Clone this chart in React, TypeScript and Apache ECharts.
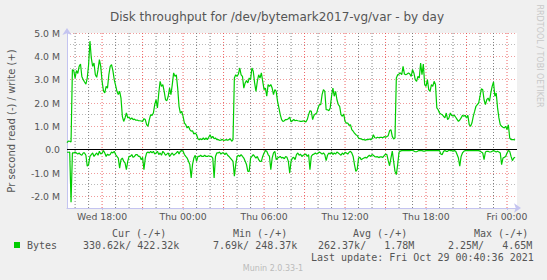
import React, { useEffect, useRef } from "react";
import * as echarts from "echarts";

// time in hours since Wed 00:00, fixed 6-minute sampling
const T0 = 15.4;
const STEP = 0.1;
const X_MIN = 15.4;
const X_MAX = 48.74;
const Y_MIN = -2.5;
const Y_MAX = 5;

// write (+) in MB/s
const writeMB = [
  0.30,0.37,0.36,0.33,3.43,3.39,3.07,3.39,3.27,3.57,3.67,3.14,3.00,2.90,2.81,3.07,3.64,4.65,3.93,3.57,
  3.71,3.21,3.10,3.43,3.86,3.57,2.93,2.53,2.43,2.71,2.64,3.21,3.57,3.64,3.39,3.00,2.76,2.50,2.36,2.50,
  2.21,1.43,1.21,1.36,1.57,1.36,1.40,1.30,1.36,1.29,1.31,1.26,1.27,1.24,
  1.24,1.23,1.21,1.33,1.29,1.07,1.00,1.29,1.50,1.47,1.57,1.93,2.14,1.79,2.43,2.93,2.71,2.79,2.50,2.14,
  2.10,2.29,2.64,2.36,2.79,3.29,3.14,3.21,2.64,1.86,1.57,1.64,1.43,1.14,1.07,0.93,1.00,0.86,0.79,0.81,
  0.67,0.71,0.64,0.47,0.43,0.47,0.43,0.50,0.43,0.50,0.43,0.53,0.64,0.50,0.57,0.47,0.50,0.43,
  0.43,0.40,0.41,0.44,0.40,0.41,0.43,0.40,0.43,0.47,0.36,0.43,3.07,3.21,3.14,3.24,3.50,3.21,3.14,2.64,
  2.86,2.96,2.86,3.07,3.00,3.50,3.36,2.86,2.50,2.93,3.21,3.07,3.29,2.93,2.57,2.64,2.29,2.79,2.71,2.79,
  2.64,2.36,2.57,2.50,2.07,1.79,1.50,1.29,1.21,1.24,1.29,1.29,1.33,1.39,1.19,1.24,1.29,1.24,
  1.26,1.24,1.23,1.21,1.21,1.24,1.21,1.19,1.29,1.50,1.67,1.64,1.29,1.47,1.53,1.57,1.79,1.93,1.93,2.36,
  2.57,2.50,1.71,1.71,1.67,1.79,2.29,2.64,2.29,2.50,2.14,1.93,1.86,1.50,1.43,1.53,1.21,1.14,1.14,1.04,
  1.07,0.86,0.79,0.71,0.64,0.61,0.50,0.47,0.46,0.43,0.43,0.41,0.43,0.43,0.46,0.43,0.47,0.64,
  0.51,0.50,0.53,0.51,0.53,0.53,0.51,0.56,0.54,0.56,0.60,0.81,0.86,0.57,0.46,0.50,3.07,3.21,3.24,3.29,
  3.21,3.57,3.24,3.21,3.24,3.29,3.24,3.14,3.43,3.29,3.00,2.93,3.14,3.07,3.71,3.21,3.67,2.79,2.71,3.00,
  2.57,2.50,2.79,2.71,2.93,2.79,1.79,1.71,1.57,1.53,1.50,1.43,1.36,1.57,1.29,1.36,
  1.57,1.47,1.44,1.47,1.39,1.30,1.21,1.27,1.36,1.47,1.43,1.47,1.36,1.47,1.07,1.00,1.14,1.43,1.64,1.86,
  1.93,2.00,2.29,2.61,2.57,2.14,1.93,2.14,2.21,2.07,2.43,2.71,2.90,2.29,2.43,1.79,1.36,1.07,1.00,0.96,
  0.93,1.00,0.86,1.07,0.50,0.43,0.43,0.43,0.42,
];

// read (-) in MB/s
const readMB = [
  -0.11,-0.11,-0.10,-2.25,-0.14,-0.14,-0.10,-0.14,-0.19,-0.14,-0.21,-0.24,-0.14,-0.14,-0.24,-0.71,-0.64,-0.29,-0.21,-0.14,
  -0.29,-0.21,-0.14,-0.24,-0.07,-0.19,-0.14,-0.04,-0.14,-0.29,-0.19,-0.24,-0.21,-0.10,-0.14,-0.07,-0.21,-0.29,-0.36,-0.79,
  -0.43,-0.36,-0.50,-0.57,-0.86,-0.50,-0.29,-0.29,-0.21,-0.33,-0.29,-0.21,-0.21,-0.29,
  -0.29,-0.43,-0.33,-0.86,-0.36,-0.14,-0.10,-0.14,-0.07,-0.14,-0.07,-0.19,-0.14,-0.07,-0.21,-0.14,-0.24,-0.07,-0.14,-0.24,
  -0.19,-0.14,-0.29,-0.21,-0.14,-0.24,-0.19,-0.14,-0.07,-0.19,-0.07,-0.04,-0.07,-0.21,-0.29,-0.36,-0.50,-0.64,-1.21,-0.64,
  -0.36,-0.24,-0.50,-0.29,-0.29,-0.24,-0.29,-0.29,-0.24,-0.29,-0.29,-0.26,-0.29,-0.29,-0.36,-1.21,-0.29,-0.14,
  -0.14,-0.10,-0.19,-0.14,-0.14,-0.21,-0.14,-0.24,-0.29,-0.36,-0.43,-0.50,-1.14,-0.64,-0.29,-0.24,-0.29,-0.21,-0.29,-0.36,
  -0.50,-0.64,-0.93,-0.93,-0.36,-0.29,-0.21,-0.29,-0.36,-0.29,-0.43,-0.50,-0.50,-0.29,-0.14,-0.04,-0.07,-0.21,-0.29,-0.86,
  -0.36,-0.14,-0.07,-0.43,-0.36,-0.33,-0.29,-0.36,-0.33,-0.39,-0.29,-0.33,-0.50,-1.00,-0.50,-0.36,-0.33,-0.43,
  -0.21,-0.14,-0.24,-0.19,-0.29,-0.24,-0.21,-0.19,-0.29,-0.21,-0.86,-0.29,-0.21,-0.19,-0.14,-0.19,-0.14,-0.10,-0.14,-0.19,
  -0.14,-0.21,-0.47,-0.24,-0.14,-0.19,-0.10,-0.21,-0.14,-0.19,-0.10,-0.14,-0.19,-0.24,-0.14,-0.21,-0.11,-0.14,-0.19,-0.11,
  -0.07,-0.14,-0.29,-0.64,-0.93,-0.86,-0.36,-0.33,-0.43,-0.39,-0.36,-0.33,-0.36,-0.29,-0.24,-0.29,-0.21,-0.24,
  -0.30,-0.31,-0.30,-0.34,-0.31,-0.31,-0.33,-0.26,-0.19,-0.21,-0.47,-0.69,-0.36,-0.06,-0.50,-0.93,-1.07,-0.64,-0.11,-0.06,
  -0.04,-0.03,-0.04,-0.03,-0.04,-0.03,-0.04,-0.03,-0.03,-0.06,-0.09,-0.09,-0.06,-0.03,-0.04,-0.04,-0.06,-0.06,-0.04,-0.03,
  -0.04,-0.04,-0.03,-0.04,-0.04,-0.04,-0.04,-0.04,-0.04,-0.19,-0.21,-0.07,-0.04,-0.07,-0.07,-0.01,
  -0.04,-0.04,-0.07,-0.04,-0.07,-0.21,-0.36,-0.71,-0.29,-0.14,-0.07,-0.04,-0.04,-0.04,-0.04,-0.04,-0.04,-0.04,-0.04,-0.04,
  -0.04,-0.04,-0.07,-0.10,-0.14,-0.43,-0.10,-0.07,-0.07,-0.10,-0.10,-0.07,-0.04,-0.07,-0.10,-0.07,-0.10,-0.14,-0.64,-0.36,
  -0.33,-0.29,-0.14,-0.04,-0.07,-0.29,-0.47,-0.36,-0.33,
];

const xLabelHours = [18, 24, 30, 36, 42, 48];
const xLabelTexts = ["Wed 18:00", "Thu 00:00", "Thu 06:00", "Thu 12:00", "Thu 18:00", "Fri 00:00"];
const minorGridHours = [16, 17, 19, 20, 22, 23, 25, 26, 28, 29, 31, 32, 34, 35, 37, 38, 40, 41, 43, 44, 46, 47];
const majorGridHours = [18, 21, 24, 27, 30, 33, 36, 39, 42, 45, 48];

const titleText = "Disk throughput for /dev/bytemark2017-vg/var - by day";
const yAxisTitle = "Pr second read (-) / write (+)";
const legendName = "Bytes";
const legendHeads = ["Cur (-/+)", "Min (-/+)", "Avg (-/+)", "Max (-/+)"];
const legendValues = ["330.62k/ 422.32k", "7.69k/ 248.37k", "262.37k/   1.78M", "2.25M/   4.65M"];
const lastUpdate = "Last update: Fri Oct 29 00:40:36 2021";
const muninVersion = "Munin 2.0.33-1";
const rrdCredit = "RRDTOOL / TOBI OETIKER";

const GREEN = "#00cc00";
const RED = "rgba(230,90,90,0.6)";
const GRAY = "rgba(140,140,140,0.6)";
const RED_V = "rgba(235,70,70,0.85)";
const GRAY_V = "rgba(115,115,115,0.9)";
const AXIS = "#c4c4f0";
const TEXT = "#555555";
const SANS = "'DejaVu Sans', sans-serif";
const MONO = "'DejaVu Sans Mono', monospace";

function verticalLines(hours: number[]) {
  const out: any[] = [];
  hours.forEach((h) => {
    out.push([h, Y_MIN], [h, Y_MAX], [h, null]);
  });
  return out;
}

export default function App() {
  const ref = useRef<HTMLDivElement>(null);

  useEffect(() => {
    if (!ref.current) return;
    const chart = echarts.init(ref.current, null, { renderer: "svg" });

    const writeData = writeMB.map((v, i) => [T0 + i * STEP, v]);
    const readData = readMB.map((v, i) => [T0 + i * STEP, v]);

    const headX = [112, 233, 353, 474];
    const valX = [83, 213, 318, 448];

    const graphics: any[] = [
      {
        type: "text",
        x: 11,
        y: 121,
        rotation: Math.PI / 2,
        style: { text: yAxisTitle, fill: TEXT, font: `10px ${SANS}`, align: "center", verticalAlign: "middle" },
      },
      {
        type: "text",
        x: 539,
        y: 56,
        rotation: -Math.PI / 2,
        style: { text: rrdCredit, fill: "#c8c8c8", font: `8px ${SANS}`, align: "center", verticalAlign: "middle" },
      },
      {
        type: "rect",
        shape: { x: 14, y: 242, width: 6, height: 6 },
        style: { fill: GREEN },
      },
      {
        type: "text",
        x: 27,
        y: 245.5,
        style: { text: legendName, fill: TEXT, font: `10px ${MONO}`, align: "left", verticalAlign: "middle" },
      },
      ...legendHeads.map((t, i) => ({
        type: "text",
        x: headX[i],
        y: 233.5,
        style: { text: t, fill: TEXT, font: `10px ${MONO}`, align: "left", verticalAlign: "middle" },
      })),
      ...legendValues.map((t, i) => ({
        type: "text",
        x: valX[i],
        y: 245.5,
        style: { text: t, fill: TEXT, font: `10px ${MONO}`, align: "left", verticalAlign: "middle" },
      })),
      {
        type: "text",
        x: 311,
        y: 257.5,
        style: { text: lastUpdate, fill: TEXT, font: `10px ${MONO}`, align: "left", verticalAlign: "middle" },
      },
      {
        type: "text",
        x: 273,
        y: 268.5,
        style: { text: muninVersion, fill: "#bbbbbb", font: `8px ${SANS}`, align: "center", verticalAlign: "middle" },
      },
    ];

    chart.setOption({
      animation: false,
      backgroundColor: "#f0f0f0",
      title: {
        text: titleText,
        left: 272,
        top: 6,
        textAlign: "center",
        textStyle: { color: TEXT, fontFamily: SANS, fontSize: 12, fontWeight: "normal" },
      },
      grid: { left: 67, right: 30, top: 33, bottom: 72, show: true, backgroundColor: "#ffffff", borderWidth: 0 },
      xAxis: {
        type: "value",
        min: X_MIN,
        max: X_MAX,
        axisLine: {
          show: true,
          onZero: false,
          lineStyle: { color: AXIS, width: 1 },
          symbol: ["none", "arrow"],
          symbolSize: [7, 7],
          symbolOffset: [0, 4],
        },
        axisTick: { show: true, length: 2, customValues: majorGridHours, lineStyle: { color: AXIS } },
        axisLabel: {
          customValues: xLabelHours,
          margin: 4,
          color: TEXT,
          fontFamily: SANS,
          fontSize: 9.3,
          formatter: (v: number) => {
            const idx = xLabelHours.indexOf(Math.round(v));
            return idx >= 0 ? xLabelTexts[idx] : "";
          },
        },
        splitLine: { show: false },
      },
      yAxis: {
        type: "value",
        min: Y_MIN,
        max: Y_MAX,
        interval: 0.5,
        axisLine: {
          show: true,
          onZero: false,
          lineStyle: { color: AXIS, width: 1 },
          symbol: ["none", "arrow"],
          symbolSize: [7, 7],
          symbolOffset: [0, 5],
        },
        axisTick: { show: false },
        axisLabel: {
          margin: 7,
          color: TEXT,
          fontFamily: SANS,
          fontSize: 9.3,
          formatter: (v: number) => {
            if (Math.abs(v) < 1e-9) return "0.0";
            if (Math.abs(v - Math.round(v)) < 1e-9) return `${v.toFixed(1)} M`;
            return "";
          },
        },
        splitLine: { show: true, lineStyle: { color: [GRAY, RED], type: [1, 2], width: 1 } },
      },
      graphic: graphics,
      series: [
        {
          type: "line",
          name: "minorGrid",
          data: verticalLines(minorGridHours),
          z: 1,
          silent: true,
          showSymbol: false,
          connectNulls: false,
          lineStyle: { color: GRAY_V, width: 1, type: [1, 2] },
          itemStyle: { color: GRAY_V },
        },
        {
          type: "line",
          name: "majorGrid",
          data: verticalLines(majorGridHours),
          z: 1,
          silent: true,
          showSymbol: false,
          connectNulls: false,
          lineStyle: { color: RED_V, width: 1, type: [1, 2] },
          itemStyle: { color: RED_V },
        },
        {
          type: "line",
          name: "write",
          data: writeData,
          showSymbol: false,
          z: 3,
          lineStyle: { color: GREEN, width: 1.2 },
          itemStyle: { color: GREEN },
        },
        {
          type: "line",
          name: "read",
          data: readData,
          showSymbol: false,
          z: 3,
          lineStyle: { color: GREEN, width: 1.2 },
          itemStyle: { color: GREEN },
          markLine: {
            silent: true,
            symbol: ["none", "none"],
            label: { show: false },
            data: [{ yAxis: 0 }],
            lineStyle: { color: "#000000", type: "solid", width: 1 },
          },
        },
      ],
    });

    return () => chart.dispose();
  }, []);

  return (
    <div
      ref={ref}
      style={{ position: "absolute", left: 0, top: 0, width: 547, height: 280 }}
    />
  );
}
